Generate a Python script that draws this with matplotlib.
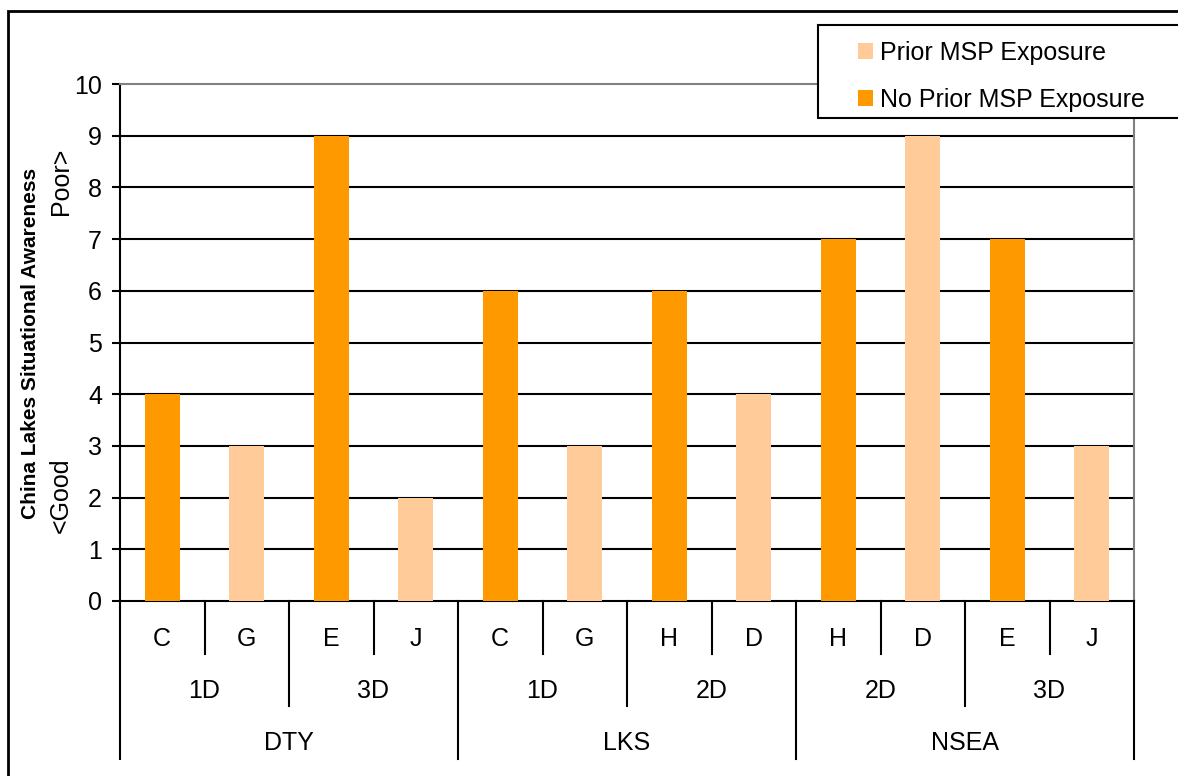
import matplotlib
matplotlib.use("Agg")
import matplotlib.pyplot as plt
from matplotlib.patches import Rectangle
import numpy as np

plt.rcParams['font.family'] = ['Liberation Sans', 'DejaVu Sans']

# ---- data ----
level1 = ["C", "G", "E", "J", "C", "G", "H", "D", "H", "D", "E", "J"]
level2 = ["1D", "3D", "1D", "2D", "2D", "3D"]
level3 = ["DTY", "LKS", "NSEA"]
no_prior = [4, None, 9, None, 6, None, 6, None, 7, None, 7, None]
prior = [None, 3, None, 2, None, 3, None, 4, None, 9, None, 3]
series_names = ["Prior MSP Exposure", "No Prior MSP Exposure"]
yticks = list(range(0, 11))

DARK = "#FF9900"
LIGHT = "#FFCC99"
FS = 18

W, H = 1178, 776
fig = plt.figure(figsize=(W / 100, H / 100), dpi=100)

def fx(px):
    return px / W

def fy(py):
    return 1 - py / H

ax_l, ax_r, ax_t, ax_b = 120, 1134, 84, 601
ax = fig.add_axes([fx(ax_l), fy(ax_b), (ax_r - ax_l) / W, (ax_b - ax_t) / H])

x = np.arange(len(level1))
np_vals = np.array([np.nan if v is None else v for v in no_prior], dtype=float)
p_vals = np.array([np.nan if v is None else v for v in prior], dtype=float)
ax.bar(x, p_vals, width=0.41, color=LIGHT, label=series_names[0], zorder=3)
ax.bar(x, np_vals, width=0.41, color=DARK, label=series_names[1], zorder=3)

ax.set_xlim(-0.5, len(level1) - 0.5)
ax.set_ylim(0, 10)
ax.set_yticks(yticks)
ax.tick_params(axis='y', labelsize=FS, length=6, width=1.5, pad=7, colors='black')
ax.set_xticks([])
for yv in yticks[1:-1]:
    ax.axhline(yv, color='black', lw=1.5, zorder=1)

for s in ['top', 'right']:
    ax.spines[s].set_color('#808080')
    ax.spines[s].set_linewidth(1.5)
ax.spines['left'].set_color('black')
ax.spines['left'].set_linewidth(1.5)
ax.spines['bottom'].set_color('black')
ax.spines['bottom'].set_linewidth(1.5)

# ---- multi-level category axis ----
hpx = ax_b - ax_t
def ay(py):
    return -(py - ax_b) / hpx

trans = ax.get_xaxis_transform()
n = len(level1)
for b in range(n + 1):
    xb = b - 0.5
    if b % 4 == 0:
        end = 759
    elif b % 2 == 0:
        end = 706
    else:
        end = 654
    ax.plot([xb, xb], [0, ay(end)], color='black', lw=1.5, transform=trans,
            clip_on=False, zorder=4)

for i, lab in enumerate(level1):
    ax.text(i, ay(639), lab, transform=trans, ha='center', va='center', fontsize=FS)
for i, lab in enumerate(level2):
    ax.text(2 * i + 0.5, ay(691), lab, transform=trans, ha='center', va='center', fontsize=FS)
for i, lab in enumerate(level3):
    ax.text(4 * i + 1.5, ay(743), lab, transform=trans, ha='center', va='center', fontsize=FS)

# ---- y label ----
fig.text(fx(31), fy(343), "China Lakes Situational Awareness", rotation=90,
         ha='center', va='center', fontsize=15, fontweight='bold')
fig.text(fx(61), fy(533), "<Good", rotation=90, ha='center', va='bottom', fontsize=FS)
fig.text(fx(61), fy(148), "Poor>", rotation=90, ha='center', va='top', fontsize=FS)

# ---- legend ----
fig.add_artist(Rectangle((fx(818), fy(118)), fx(1200) - fx(818), fy(25) - fy(118),
                         transform=fig.transFigure, fill=True, facecolor='white',
                         edgecolor='black', lw=1.5, zorder=5))
handles, labels = ax.get_legend_handles_labels()
leg = fig.legend(handles, labels, loc='upper left',
                 bbox_to_anchor=(fx(858), fy(41)), frameon=False, fontsize=FS,
                 handlelength=0.6, handleheight=0.6, handletextpad=0.3,
                 labelspacing=0.9, borderpad=0, borderaxespad=0)
leg.set_zorder(6)

# ---- figure border ----
fig.add_artist(Rectangle((fx(8), fy(800)), fx(1200) - fx(8), fy(11) - fy(800),
                         transform=fig.transFigure, fill=False, edgecolor='black',
                         lw=2, zorder=0))

fig.savefig("out.png", dpi=100)
